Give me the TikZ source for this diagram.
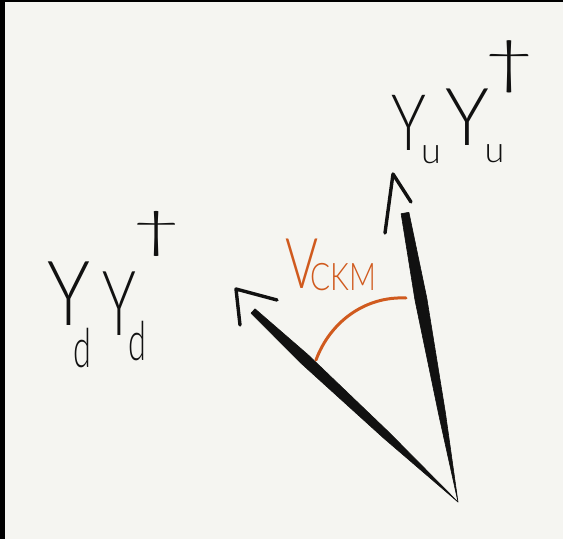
\documentclass[tikz,border=0pt]{standalone}
\usepackage{fontspec}
\setmainfont{Lato}[UprightFont=* Light]
\usepackage{graphicx}
\usetikzlibrary{positioning}
\definecolor{paper}{HTML}{F5F5F1}
\definecolor{ink}{HTML}{111111}
\definecolor{ckmorange}{HTML}{D05A1E}
\newcommand{\handsize}[1]{\fontsize{#1}{#1}\selectfont}

\begin{document}
\begin{tikzpicture}[
    x=1pt, y=-1pt,
    vecstroke/.style={fill=ink, draw=ink, line width=0.6pt, line join=round},
    vechead/.style={draw=ink, line width=3.4pt, line cap=round, line join=round},
    anglearc/.style={draw=ckmorange, line width=3pt, line cap=round},
    hand/.style={inner sep=0pt, anchor=base west, text=ink}
]
    % paper and the dark frame edge
    \fill[paper] (0,0) rectangle (563,539);
    \fill[black] (0,0) rectangle (5,539);
    \fill[black] (0,0) rectangle (563,2);
    \useasboundingbox (0,0) rectangle (563,539);

    \coordinate (apex) at (458,502);
    \coordinate (dtail) at (253,311);
    \coordinate (utail) at (405,213);

    % the two vectors
    \fill[vecstroke] (251.0,313.2) -- (300.5,362.8) -- (383.6,438.1) -- (apex)
        -- (389.0,432.3) -- (308.1,354.8) -- (255.0,308.8) -- cycle;
    \fill[vecstroke] (401.1,213.7) -- (415.0,300.2) -- (438.7,414.5) -- (apex)
        -- (445.5,413.3) -- (426.8,298.0) -- (408.9,212.3) -- cycle;
    \draw[vechead] (240,325) -- (236,289) -- (277,300);
    \draw[vechead] (385,233) -- (393,174) -- (411,202);

    % angle between them
    \draw[anglearc] (316,360) .. controls (330,322) and (365,296) .. (406,298);
    \node[hand, text=ckmorange] (ckm) at (285,288)
        {\scalebox{0.72}[1]{\handsize{70}V}\hspace{-8pt}%
         \raisebox{-2pt}{\scalebox{0.78}[1]{\handsize{38}CKM}}};

    % labels
    \node[hand] (yu) at (391,150)
        {\scalebox{0.75}[1]{\handsize{78}Y}\hspace{-5pt}%
         \raisebox{-13pt}{\handsize{36}u}\hspace{5pt}%
         \raisebox{5pt}{\scalebox{0.92}[1]{\handsize{80}Y}}\hspace{-5pt}%
         \raisebox{-12pt}{\handsize{36}u}\hspace{-22pt}%
         \raisebox{68pt}{\scalebox{1.6}[1]{\handsize{58}\textdagger}}};
    \node[hand] (yd) at (47,325)
        {\scalebox{0.8}[1]{\handsize{90}Y}\hspace{-17pt}%
         \raisebox{-42pt}{\scalebox{0.6}[1]{\handsize{54}d}}\hspace{12pt}%
         \raisebox{-10pt}{\scalebox{0.63}[1]{\handsize{90}Y}}\hspace{-8pt}%
         \raisebox{-35pt}{\scalebox{0.6}[1]{\handsize{54}d}}\hspace{-16pt}%
         \raisebox{78pt}{\scalebox{1.8}[1]{\handsize{50}\textdagger}}};
\end{tikzpicture}
\end{document}
